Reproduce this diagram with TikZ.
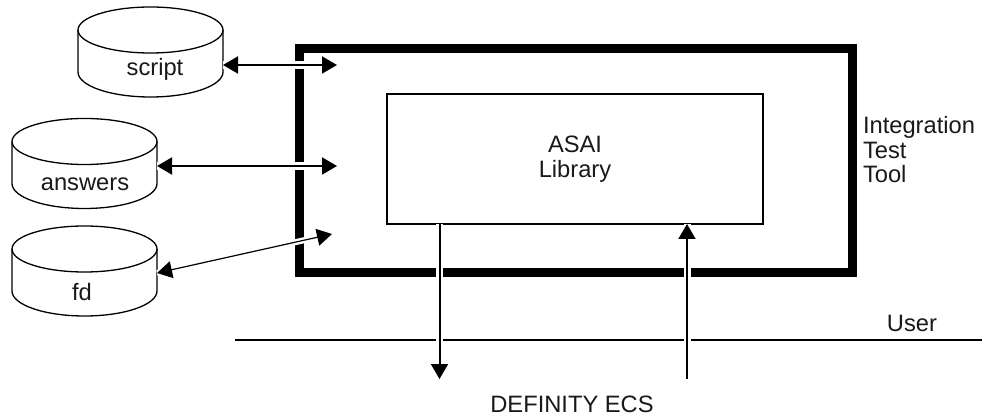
\documentclass[tikz,border=0pt]{standalone}
\usepackage{fontspec}
\setmainfont{Liberation Sans}
\usetikzlibrary{arrows.meta}
\tikzset{
  x=1pt,y=-1pt,
  txt/.style={font=\fontsize{23.7}{24.5}\selectfont,inner sep=0pt,outer sep=0pt,text=black!90},
  dbbox/.style={minimum width=145pt,minimum height=90pt,inner sep=0pt,outer sep=0pt},
  dbline/.style={line width=1.3pt,black},
  conn/.style={line width=2pt,black},
  bihead/.style={{Triangle[length=15pt,width=17pt]}-{Triangle[length=15pt,width=17pt]}},
  onehead/.style={-{Triangle[length=15pt,width=17pt]}},
  halo/.style={preaction={draw=white,line width=#1,arrows=-}},
}
\newcommand{\dbcyl}[3]{% name, center x, center y
  \node[dbbox] (#1) at (#2,#3) {};
  \draw[dbline] (#1.west) ++(0,-22) arc[start angle=180,end angle=0,x radius=72.5pt,y radius=23pt]
     -- ++(0,42) arc[start angle=0,end angle=-180,x radius=72.5pt,y radius=25pt] -- cycle;
  \draw[dbline] (#1.west) ++(0,-22) arc[start angle=180,end angle=360,x radius=72.5pt,y radius=23pt];
}
\begin{document}
\begin{tikzpicture}
\useasboundingbox (0,0) rectangle (982,419);
\fill[white] (0,0) rectangle (982,419);
% outer thick box
\node[draw=black,line width=9pt,minimum width=553pt,minimum height=224.5pt,inner sep=0pt,outer sep=0pt] (tool) at (576,160.75) {};
\node[draw=black,line width=1.6pt,minimum width=376pt,minimum height=130pt,inner sep=0pt,outer sep=0pt] (lib) at (575,159) {};
% user line
\coordinate (u1) at (235,340);
\coordinate (u2) at (982,340);
\draw[line width=1.5pt] (u1) -- (u2);
% databases
\dbcyl{script}{150.5}{52}
\dbcyl{answers}{84.5}{163.5}
\dbcyl{fd}{84.5}{271}
\node[txt,anchor=base] (scriptlabel) at (155,75.5) {script};
\node[txt,anchor=base] (answerslabel) at (85,190.5) {answers};
\node[txt,anchor=base] (fdlabel) at (82,301) {fd};
% connector ends
\coordinate (e1) at (337,65);
\coordinate (e2) at (337,166);
\coordinate (e3) at (332,234);
\coordinate (d1) at (439.5,379);
\coordinate (d2) at (687,379);
\draw[conn,bihead,halo=8pt] ([yshift=-13pt]script.east) -- (e1);
\draw[conn,bihead,halo=8pt] ([yshift=-2.5pt]answers.east) -- (e2);
\draw[line width=1.2pt,bihead,halo=6pt] ([yshift=-2pt]fd.east) -- (e3);
\draw[conn,onehead,halo=7pt] (lib.south -| d1) -- (d1);
\draw[conn,onehead,halo=7pt] (d2) -- (lib.south -| d2);
% labels
\node[txt,align=center] (asai) at (575,159) {ASAI\\Library};
\node[txt,align=left,anchor=west] (itt) at (863,150) {Integration\\Test\\Tool};
\node[txt,anchor=base] (user) at (912,331) {User};
\node[txt,anchor=base] (ecs) at (572,412) {DEFINITY ECS};
\end{tikzpicture}
\end{document}
